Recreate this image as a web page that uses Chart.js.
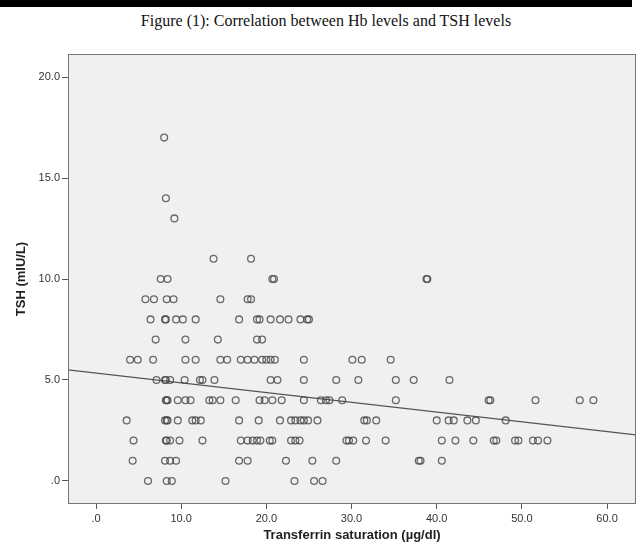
<!DOCTYPE html>
<html>
<head>
<meta charset="utf-8">
<script src="https://cdn.jsdelivr.net/npm/chart.js@4.4.0/dist/chart.umd.min.js"></script>
<style>
    html, body { margin: 0; padding: 0; background: #fff; }
    #wrap { position: relative; width: 644px; height: 551px; overflow: hidden; }
    #topbar { position: absolute; left: 0; top: 0; width: 632px; height: 7px; background: #000; }
    #fig-title {
        position: absolute; left: 0; top: 12px; width: 652px; text-align: center;
        font-family: "Liberation Serif", "DejaVu Serif", serif; font-size: 16px; color: #111;
    }
    #chart { position: absolute; left: 0; top: 0; }
</style>
</head>
<body>
<div id="wrap">
    <div id="topbar"></div>
    <div id="fig-title">Figure (1): Correlation between Hb levels and TSH levels</div>
    <canvas id="chart" width="644" height="551"></canvas>
</div>
<script>
// TSH level of each row of points, and the transferrin saturation values seen on that row
const tshLevels = [17, 14, 13, 11, 10, 9, 8, 7, 6, 5, 4, 3, 2, 1, 0];
const satTsh17 = [8.0];
const satTsh14 = [8.2];
const satTsh13 = [9.2];
const satTsh11 = [13.8, 18.2];
const satTsh10 = [7.6, 8.4, 20.7, 20.9, 38.8, 38.9];
const satTsh9 = [5.8, 6.8, 8.3, 9.1, 14.6, 17.8, 18.2];
const satTsh8 = [6.4, 8.1, 8.2, 9.4, 10.2, 11.7, 16.8, 18.9, 19.2, 20.5, 21.6, 22.6, 24.0, 24.8, 25.0];
const satTsh7 = [7.0, 10.5, 14.3, 18.9, 19.5];
const satTsh6 = [4.0, 4.9, 6.7, 10.5, 11.7, 14.6, 15.4, 17.0, 17.8, 18.6, 19.5, 20.0, 20.5, 21.0, 24.4, 30.1, 31.2, 34.6];
const satTsh5 = [7.1, 8.1, 8.2, 8.7, 10.4, 12.2, 12.5, 13.9, 20.5, 21.3, 24.4, 28.2, 30.8, 35.2, 37.3, 41.5];
const satTsh4 = [8.2, 8.3, 8.4, 9.6, 10.5, 11.1, 13.3, 13.7, 14.6, 16.4, 19.2, 19.8, 20.7, 21.8, 24.4, 26.4, 27.0, 27.4, 28.9, 35.2, 46.1, 46.3, 51.6, 56.8, 58.4];
const satTsh3 = [3.6, 8.1, 8.3, 8.4, 9.6, 11.3, 11.7, 12.3, 16.8, 19.1, 21.6, 22.9, 23.4, 24.0, 24.4, 24.9, 26.0, 31.5, 31.8, 32.9, 40.0, 41.4, 42.0, 43.6, 44.6, 48.1];
const satTsh2 = [4.4, 8.2, 8.3, 8.7, 9.8, 12.5, 17.0, 17.8, 18.4, 18.9, 19.3, 20.4, 20.7, 22.9, 23.4, 23.9, 29.4, 29.7, 30.2, 31.7, 34.0, 40.6, 42.2, 44.3, 46.7, 47.0, 49.2, 49.6, 51.3, 51.9, 53.0];
const satTsh1 = [4.3, 8.1, 8.7, 9.4, 16.8, 17.8, 22.3, 25.4, 28.2, 37.9, 38.1, 40.6];
const satTsh0 = [6.1, 8.3, 8.9, 15.2, 23.3, 25.6, 26.6];
const satRows = [satTsh17, satTsh14, satTsh13, satTsh11, satTsh10, satTsh9, satTsh8, satTsh7,
                 satTsh6, satTsh5, satTsh4, satTsh3, satTsh2, satTsh1, satTsh0];

// fit line end points, read at the plot edges
const fitX = [-3.29, 63.4];
const fitY = [5.5, 2.28];

const xTicks = [0, 10, 20, 30, 40, 50, 60];
const yTicks = [0, 5, 10, 15, 20];

function tickLabel(v) {
    return v === 0 ? '.0' : v.toFixed(1);
}

const points = [];
tshLevels.forEach((tsh, i) => {
    satRows[i].forEach(sat => points.push({ x: sat, y: tsh }));
});

const plotFrame = {
    id: 'plotFrame',
    beforeDraw(chart) {
        const a = chart.chartArea;
        const ctx = chart.ctx;
        ctx.save();
        ctx.fillStyle = '#f0f0f0';
        ctx.fillRect(a.left, a.top, a.right - a.left, a.bottom - a.top);
        ctx.restore();
    },
    afterDraw(chart) {
        const a = chart.chartArea;
        const ctx = chart.ctx;
        ctx.save();
        ctx.strokeStyle = '#777';
        ctx.lineWidth = 1;
        ctx.strokeRect(a.left + 0.5, a.top + 0.5, a.right - a.left - 1, a.bottom - a.top - 1);
        ctx.restore();
    }
};

const tickFont = { family: '"Liberation Sans", Arial, sans-serif', size: 11 };
const titleFont = { family: '"Liberation Sans", Arial, sans-serif', size: 13, weight: 'bold' };

new Chart(document.getElementById('chart').getContext('2d'), {
    type: 'scatter',
    data: {
        datasets: [{
            label: 'TSH',
            data: points,
            pointStyle: 'circle',
            pointRadius: 3.4,
            pointBorderWidth: 1.3,
            pointBackgroundColor: 'rgba(0,0,0,0)',
            pointBorderColor: 'rgba(70,70,70,0.8)'
        }, {
            label: 'Fit',
            type: 'line',
            data: fitX.map((x, i) => ({ x: x, y: fitY[i] })),
            borderColor: '#555',
            borderWidth: 1.4,
            pointRadius: 0,
            fill: false
        }]
    },
    options: {
        responsive: false,
        animation: false,
        devicePixelRatio: 1,
        layout: { padding: { top: 54, right: 8, left: 0, bottom: 0 } },
        plugins: {
            legend: { display: false },
            tooltip: { enabled: false }
        },
        scales: {
            x: {
                type: 'linear',
                min: fitX[0],
                max: fitX[1],
                afterFit(scale) { scale.height = 47; },
                afterBuildTicks(scale) { scale.ticks = xTicks.map(v => ({ value: v })); },
                ticks: { callback: tickLabel, font: tickFont, color: '#333', padding: 3, maxRotation: 0 },
                grid: { drawOnChartArea: false, drawTicks: true, tickLength: 5, color: '#555' },
                border: { display: false },
                title: {
                    display: true,
                    text: 'Transferrin saturation (µg/dl)',
                    font: titleFont,
                    color: '#222',
                    padding: { top: 4, bottom: 8 }
                }
            },
            y: {
                type: 'linear',
                min: -1.14,
                max: 21.14,
                afterFit(scale) { scale.width = 68; },
                afterBuildTicks(scale) { scale.ticks = yTicks.map(v => ({ value: v })); },
                ticks: { callback: tickLabel, font: tickFont, color: '#333', padding: 2 },
                grid: { drawOnChartArea: false, drawTicks: true, tickLength: 6, color: '#555' },
                border: { display: false },
                title: {
                    display: true,
                    text: 'TSH (mIU/L)',
                    font: titleFont,
                    color: '#222',
                    padding: { top: 14, bottom: 4 }
                }
            }
        }
    },
    plugins: [plotFrame]
});
</script>
</body>
</html>
